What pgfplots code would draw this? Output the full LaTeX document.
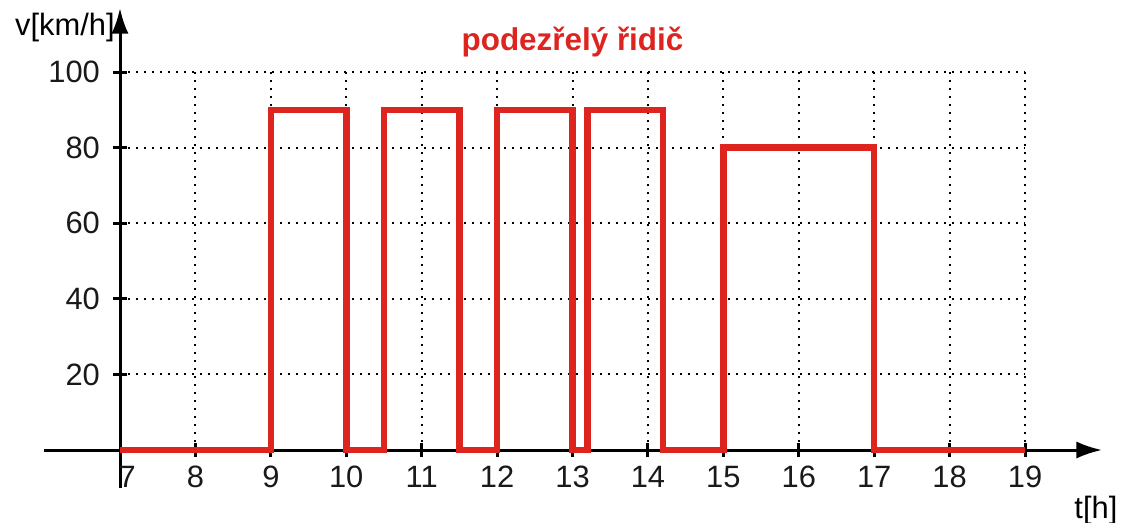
\documentclass[border=0pt]{standalone}
\usepackage{fontspec}
\setmainfont{Liberation Sans}
\usepackage{pgfplots}
\pgfplotsset{compat=1.18}
\usetikzlibrary{arrows.meta}
\definecolor{myred}{RGB}{221,36,30}
\begin{document}
\begin{tikzpicture}
\begin{axis}[
  scale only axis,
  width=316.75pt, height=132.3pt,
  xmin=7, xmax=19, ymin=0, ymax=100,
  enlargelimits=false,
  clip=false,
  axis lines=left,
  x axis line style={line width=1.05pt, -{Latex[length=9pt,width=6pt]}, shorten <=-26.6pt, shorten >=-27pt},
  y axis line style={line width=1.05pt, -{Latex[length=9pt,width=6pt]}, shorten <=-13.3pt, shorten >=-22.4pt},
  xtick={7,...,19},
  ytick={20,40,...,100},
  xticklabels={\hspace{5pt}7,8,9,10,11,12,13,14,15,16,17,18,19},
  tick align=center,
  major tick length=5pt,
  every tick/.style={black, line width=1.05pt},
  grid=major,
  major grid style={black, line width=0.7pt, dash pattern=on 0.7pt off 2.1pt},
  /pgf/number format/assume math mode=true,
  tick label style={font=\fontsize{10.8}{12}\selectfont, text=black!90},
  xticklabel style={yshift=0.5pt},
  yticklabel style={xshift=-1pt},
]
\addplot[const plot, myred, line width=2.3pt, line join=miter] coordinates {
  (7,0) (9,90) (10,0) (10.5,90) (11.5,0) (12,90) (13,0) (13.2,90) (14.2,0) (15,80) (17,0) (19,0)
};
\node[font=\fontsize{11}{13}\selectfont\bfseries, text=myred] at (axis cs:13,107.9) {podezřelý řidič};
\node[font=\fontsize{10.8}{12}\selectfont] at (axis cs:6.27,111.9) {v[km/h]};
\node[font=\fontsize{10.8}{12}\selectfont] at (axis cs:19.94,-15.9) {t[h]};
\coordinate (O) at (axis cs:7,0);
\end{axis}
\pgfresetboundingbox
\path ([shift={(-42pt,-25.2pt)}]O) rectangle ([shift={(350.7pt,157.5pt)}]O);
\end{tikzpicture}
\end{document}
